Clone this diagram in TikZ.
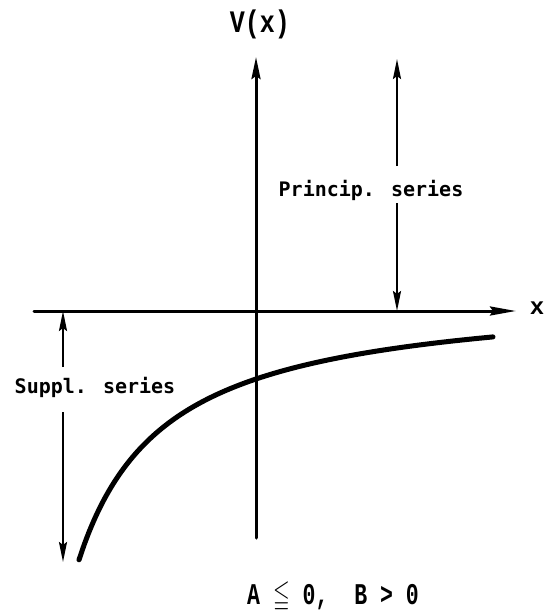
\documentclass[tikz,border=0pt]{standalone}
\usepackage{amsmath}
\usepackage{amssymb}
\usepackage{graphicx}
\usepackage{fontspec}
\setmonofont{Liberation Mono}
\newfontfamily\labfont{DejaVu Sans Mono}
\usetikzlibrary{arrows.meta}
\tikzset{
  serifmono/.style={font=\ttfamily\bfseries\fontsize{21.5}{24}\selectfont, inner sep=0pt},
  sansmono/.style={font=\labfont\bfseries\fontsize{20}{24}\selectfont, inner sep=0pt},
  axisline/.style={line width=3pt, line cap=round},
  serarrow/.style={line width=2.3pt, -{Stealth[length=20pt,width=8pt,inset=3pt]}},
  curveline/.style={line width=5pt, line cap=round},
}
\begin{document}
\begin{tikzpicture}[x=1pt,y=-1pt]
\useasboundingbox (0,0) rectangle (544,610);
% labels
\node[serifmono, font=\ttfamily\bfseries\fontsize{25}{28}\selectfont] (V) at (260,24) {\scalebox{1}[1.25]{V(x)}};
\node[serifmono, font=\ttfamily\bfseries\fontsize{24}{28}\selectfont] (xl) at (537,308) {x};
\node[sansmono] (P) at (371,190) {Princip. series};
\node[sansmono] (S) at (95,387) {Suppl. series};
\node[serifmono] (cond) at (333,597) {\scalebox{1}[1.4]{A~\(\boldsymbol{\leqq}\)~0,~~B~>~0}};
% axis coordinates
\coordinate (vb) at (256,538);
\coordinate (vt) at (256,57);
\coordinate (hl) at (34,311);
\coordinate (hr) at (516,311);
% series arrows
\coordinate (pu1) at (397,166);
\coordinate (pu2) at (397,59);
\coordinate (pl1) at (397,203);
\coordinate (pl2) at (397,311);
\coordinate (su1) at (63,367);
\coordinate (su2) at (63,311);
\coordinate (sl1) at (63,412);
\coordinate (sl2) at (63,562);
% axes
\draw[axisline, -{Stealth[length=22pt,width=9pt,inset=3pt]}] (vb) -- (vt);
\draw[axisline, -{Stealth[length=26pt,width=9pt,inset=3pt]}] (hl) -- (hr);
% arrows
\draw[serarrow] (pu1) -- (pu2);
\draw[serarrow] (pl1) -- (pl2);
\draw[serarrow] (su1) -- (su2);
\draw[serarrow] (sl1) -- (sl2);
% potential curve
\draw[curveline] plot[domain=79:493, samples=80, smooth]
  (\x, {290 + 235.05/((\x+8.1)/100)});
\end{tikzpicture}
\end{document}
